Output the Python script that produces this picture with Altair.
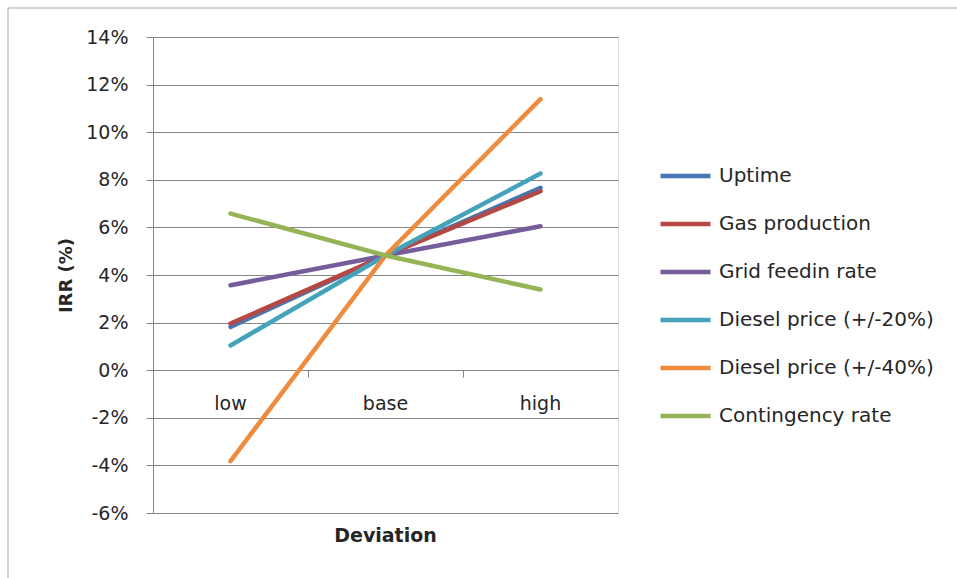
import altair as alt
import pandas as pd

# Sensitivity of IRR to each input, at low / base / high deviation
deviation = ["low", "base", "high"]
series = [
    "Uptime",
    "Gas production",
    "Grid feedin rate",
    "Diesel price (+/-20%)",
    "Diesel price (+/-40%)",
    "Contingency rate",
]
uptime = [0.0182, 0.0482, 0.0766]
gas_production = [0.0196, 0.0482, 0.0752]
grid_feedin = [0.0357, 0.0482, 0.0605]
diesel_20 = [0.0104, 0.0482, 0.0826]
diesel_40 = [-0.0382, 0.0482, 0.1139]
contingency = [0.0658, 0.0482, 0.0339]
colors = ["#4876B2", "#B54845", "#775C9C", "#44A2BA", "#EE8B3F", "#94B456"]
y_ticks = [-0.06, -0.04, -0.02, 0.0, 0.02, 0.04, 0.06, 0.08, 0.10, 0.12, 0.14]

values = [uptime, gas_production, grid_feedin, diesel_20, diesel_40, contingency]
rows = []
for order, (name, vals) in enumerate(zip(series, values)):
    for dev, v in zip(deviation, vals):
        rows.append({"Series": name, "Deviation": dev, "IRR": v, "order": order})
df = pd.DataFrame(rows)

FONT = "DejaVu Sans"
GRID = "#868686"
TEXT = "#262626"

W, H = 465, 476

lines = alt.Chart(df).mark_line(strokeWidth=4.5, strokeCap="round").encode(
    x=alt.X(
        "Deviation:N",
        sort=deviation,
        bandPosition=0.5,
        scale=alt.Scale(type="band", paddingInner=0, paddingOuter=0),
        axis=alt.Axis(
            title=None,
            offset=-143,
            bandPosition=0,
            labelAngle=0,
            labelPadding=17,
            tickSize=7,
            tickColor=GRID,
            domainColor=GRID,
            grid=False,
            labelFont=FONT,
            labelFontSize=19,
            labelColor=TEXT,
        ),
    ),
    y=alt.Y(
        "IRR:Q",
        scale=alt.Scale(domain=[-0.06, 0.14], nice=False, zero=False),
        axis=alt.Axis(
            title="IRR (%)",
            values=y_ticks,
            labelExpr="(datum.value < -0.0001 ? '-' : '') + format(abs(datum.value), '.0%')",
            tickSize=7,
            tickColor=GRID,
            domainColor=GRID,
            gridColor=GRID,
            gridWidth=1,
            labelPadding=18,
            labelFont=FONT,
            labelFontSize=19,
            labelColor=TEXT,
            titleFont=FONT,
            titleFontSize=18,
            titleFontWeight="bold",
            titleColor=TEXT,
            titlePadding=10,
        ),
    ),
    color=alt.Color(
        "Series:N",
        sort=series,
        scale=alt.Scale(domain=series, range=colors),
        legend=alt.Legend(
            title=None,
            orient="none",
            legendX=505,
            legendY=119,
            padding=0,
            symbolType="stroke",
            symbolSize=2500,
            symbolStrokeWidth=4.5,
            clipHeight=40,
            rowPadding=8,
            labelOffset=6,
            labelLimit=400,
            labelFont=FONT,
            labelFontSize=20,
            labelColor=TEXT,
        ),
    ),
    order=alt.Order("order:Q"),
)

# x-axis title, centred under the plot area
x_title = alt.Chart(pd.DataFrame({"t": ["Deviation"]})).mark_text(
    font=FONT, fontSize=19, fontWeight="bold", color=TEXT, baseline="middle"
).encode(
    text="t:N",
    x=alt.value(W / 2),
    y=alt.value(H + 23),
)

# thin frame around the chart area
frame = alt.Chart(pd.DataFrame({"f": [0]})).mark_rect(
    fill="transparent", stroke="#a6a6a6", strokeWidth=1
).encode(
    x=alt.value(-145),
    y=alt.value(-29),
    x2=alt.value(W + 400),
    y2=alt.value(H + 200),
)

chart = (
    alt.layer(frame, lines, x_title)
    .properties(
        width=W,
        height=H,
        autosize=alt.AutoSizeParams(type="none"),
        padding={"left": 153, "top": 37, "right": 339, "bottom": 65},
    )
    .configure_view(strokeWidth=0)
    .configure(background="white")
)

chart.save("out.html", embed_options={"renderer": "svg", "actions": False})
